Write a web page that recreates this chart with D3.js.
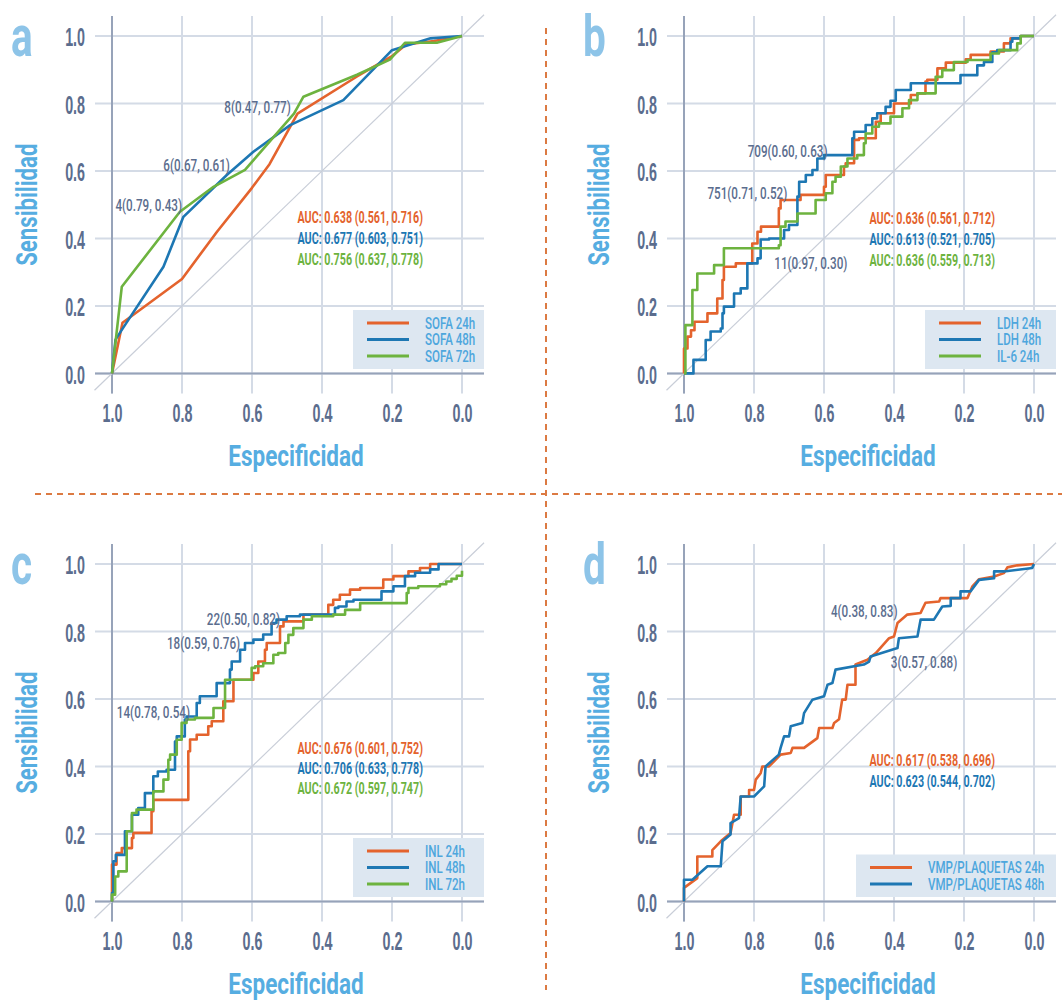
<!DOCTYPE html>
<meta charset="utf-8">
<script src="https://d3js.org/d3.v7.min.js"></script>
<style type="text/css">
body { margin: 0; background: #fff; }
svg { font-family: Roboto, "DejaVu Sans Condensed", sans-serif; }
.grid line { stroke: #d4dbe6; stroke-width: 2; }
.eixo { stroke: #97a3b9; stroke-width: 2; }
.diag { stroke: #c9ced8; stroke-width: 1.2; }
.axis text { fill: #5b6d8e; font-size: 26px; font-weight: bold; }
.titulo { fill: #56ade1; font-size: 30px; font-weight: bold; }
.letra { fill: #8dc4e8; font-size: 58px; font-weight: bold; }
.anot { fill: #5b6d8e; font-size: 16px; font-weight: 500; }
.auc { font-size: 16px; font-weight: bold; }
.leg text { fill: #4da6dd; font-size: 16px; font-weight: 500; }
</style>
<body>
<div id="canvas"></div>
<script>

// cores das series
var colors = ["#e4632d", "#1d77b3", "#6db33f"];
var tickValues = [0, 0.2, 0.4, 0.6, 0.8, 1.0];

// a: SOFA --------------------------------------------------------
var sofa24 = [[1,0],[0.97,0.15],[0.80,0.28],[0.70,0.42],[0.60,0.55],[0.55,0.62],[0.47,0.77],[0.30,0.88],[0.20,0.94],[0.16,0.975],[0.08,0.985],[0,1]];
var sofa48 = [[1,0],[0.99,0.10],[0.965,0.14],[0.853,0.316],[0.796,0.464],[0.672,0.588],[0.596,0.657],[0.491,0.736],[0.339,0.81],[0.20,0.958],[0.09,0.993],[0,1]];
var sofa72 = [[1,0],[0.972,0.257],[0.806,0.479],[0.71,0.553],[0.62,0.603],[0.48,0.77],[0.453,0.82],[0.30,0.885],[0.206,0.93],[0.163,0.98],[0.072,0.98],[0,1]];

// b: LDH / IL-6 --------------------------------------------------
var ldh24 = [[1,0],[0.99,0.074],[0.98,0.109],[0.97,0.128],[0.933,0.153],[0.905,0.178],[0.89,0.222],[0.886,0.277],[0.852,0.316],[0.805,0.326],[0.79,0.385],[0.78,0.42],[0.729,0.435],[0.724,0.489],[0.695,0.514],[0.667,0.514],[0.657,0.529],[0.60,0.529],[0.595,0.553],[0.543,0.588],[0.538,0.613],[0.514,0.623],[0.50,0.692],[0.452,0.697],[0.438,0.746],[0.429,0.771],[0.40,0.771],[0.395,0.80],[0.352,0.80],[0.333,0.825],[0.31,0.83],[0.305,0.865],[0.276,0.87],[0.252,0.904],[0.224,0.921],[0.195,0.921],[0.181,0.931],[0.124,0.944],[0.086,0.954],[0.067,0.978],[0.038,0.993],[0,1]];
var ldh48 = [[1,0],[0.973,0],[0.938,0.04],[0.924,0.099],[0.895,0.124],[0.89,0.133],[0.886,0.178],[0.857,0.198],[0.838,0.237],[0.819,0.252],[0.79,0.326],[0.781,0.341],[0.757,0.397],[0.714,0.40],[0.70,0.425],[0.676,0.44],[0.671,0.524],[0.652,0.568],[0.633,0.588],[0.619,0.603],[0.60,0.637],[0.581,0.647],[0.519,0.647],[0.514,0.697],[0.481,0.716],[0.462,0.736],[0.448,0.756],[0.424,0.771],[0.41,0.79],[0.395,0.808],[0.352,0.84],[0.276,0.86],[0.21,0.86],[0.181,0.884],[0.162,0.884],[0.143,0.913],[0.119,0.923],[0.105,0.952],[0.067,0.958],[0.062,0.983],[0.038,0.993],[0,1]];
var il6_24 = [[1,0],[0.996,0],[0.976,0.143],[0.962,0.247],[0.914,0.296],[0.886,0.321],[0.871,0.371],[0.729,0.371],[0.724,0.38],[0.71,0.435],[0.676,0.45],[0.648,0.474],[0.624,0.474],[0.595,0.514],[0.576,0.534],[0.567,0.568],[0.552,0.583],[0.533,0.613],[0.505,0.637],[0.486,0.647],[0.481,0.682],[0.462,0.711],[0.443,0.731],[0.41,0.741],[0.376,0.761],[0.357,0.786],[0.333,0.81],[0.281,0.83],[0.262,0.879],[0.229,0.899],[0.19,0.923],[0.124,0.929],[0.10,0.948],[0.048,0.958],[0.038,0.978],[0,1]];

// c: INL ---------------------------------------------------------
var inl24 = [[1,0],[1,0.064],[0.987,0.109],[0.972,0.143],[0.943,0.158],[0.939,0.188],[0.887,0.203],[0.882,0.267],[0.82,0.301],[0.782,0.301],[0.777,0.445],[0.758,0.48],[0.725,0.494],[0.715,0.519],[0.701,0.534],[0.682,0.534],[0.677,0.593],[0.653,0.593],[0.596,0.657],[0.582,0.677],[0.563,0.711],[0.558,0.746],[0.52,0.766],[0.51,0.815],[0.453,0.83],[0.382,0.85],[0.368,0.879],[0.349,0.894],[0.32,0.909],[0.291,0.924],[0.225,0.929],[0.196,0.954],[0.153,0.964],[0.12,0.978],[0.091,0.988],[0.077,1],[0,1]];
var inl48 = [[1,0],[0.996,0.025],[0.989,0.119],[0.963,0.138],[0.943,0.208],[0.925,0.257],[0.906,0.277],[0.882,0.321],[0.869,0.371],[0.844,0.385],[0.82,0.39],[0.815,0.474],[0.792,0.489],[0.787,0.539],[0.758,0.548],[0.749,0.588],[0.72,0.608],[0.701,0.608],[0.663,0.647],[0.658,0.687],[0.634,0.711],[0.62,0.746],[0.596,0.766],[0.568,0.776],[0.544,0.791],[0.53,0.825],[0.501,0.835],[0.463,0.845],[0.363,0.85],[0.353,0.87],[0.33,0.874],[0.31,0.889],[0.23,0.894],[0.196,0.919],[0.163,0.934],[0.134,0.964],[0.091,0.974],[0.067,0.984],[0.058,1],[0,1]];
var inl72 = [[1,0],[0.991,0.02],[0.982,0.074],[0.958,0.089],[0.958,0.17],[0.943,0.208],[0.93,0.262],[0.882,0.272],[0.853,0.326],[0.839,0.361],[0.834,0.42],[0.815,0.435],[0.801,0.479],[0.787,0.529],[0.763,0.539],[0.71,0.544],[0.71,0.573],[0.677,0.573],[0.672,0.657],[0.601,0.657],[0.591,0.692],[0.568,0.697],[0.539,0.706],[0.525,0.731],[0.505,0.736],[0.496,0.766],[0.482,0.79],[0.453,0.81],[0.429,0.835],[0.368,0.845],[0.334,0.85],[0.329,0.864],[0.291,0.864],[0.244,0.884],[0.158,0.884],[0.153,0.914],[0.125,0.929],[0.063,0.934],[0.045,0.94],[0.03,0.948],[0.015,0.956],[0,0.965],[0,0.98]];

// d: VMP/PLAQUETAS -----------------------------------------------
var vmp24 = [[1,0],[1,0.04],[0.962,0.069],[0.962,0.133],[0.919,0.133],[0.919,0.152],[0.895,0.178],[0.867,0.203],[0.857,0.257],[0.838,0.257],[0.838,0.311],[0.814,0.311],[0.814,0.33],[0.80,0.33],[0.795,0.361],[0.781,0.38],[0.776,0.40],[0.757,0.40],[0.724,0.435],[0.695,0.44],[0.69,0.455],[0.657,0.455],[0.619,0.484],[0.614,0.514],[0.576,0.514],[0.571,0.529],[0.557,0.54],[0.548,0.598],[0.538,0.598],[0.533,0.642],[0.51,0.642],[0.51,0.702],[0.476,0.716],[0.452,0.736],[0.414,0.78],[0.40,0.785],[0.39,0.825],[0.362,0.85],[0.324,0.855],[0.31,0.885],[0.271,0.889],[0.267,0.899],[0.19,0.899],[0.176,0.934],[0.157,0.955],[0.114,0.963],[0.086,0.973],[0.076,0.99],[0.048,0.996],[0,1]];
var vmp48 = [[1,0],[1,0.064],[0.976,0.064],[0.933,0.104],[0.895,0.104],[0.89,0.178],[0.867,0.198],[0.867,0.232],[0.843,0.247],[0.838,0.311],[0.80,0.311],[0.771,0.341],[0.767,0.40],[0.729,0.435],[0.724,0.455],[0.714,0.489],[0.70,0.489],[0.695,0.519],[0.662,0.529],[0.657,0.558],[0.633,0.598],[0.60,0.608],[0.59,0.642],[0.576,0.647],[0.567,0.687],[0.486,0.702],[0.471,0.711],[0.467,0.726],[0.39,0.751],[0.386,0.78],[0.333,0.785],[0.324,0.835],[0.286,0.835],[0.262,0.874],[0.238,0.876],[0.238,0.899],[0.21,0.899],[0.21,0.919],[0.181,0.919],[0.157,0.953],[0.114,0.958],[0.114,0.978],[0.086,0.978],[0.005,0.988],[0,1]];

// textos AUC e pontos de corte
var aucA = ["AUC: 0.638 (0.561, 0.716)", "AUC: 0.677 (0.603, 0.751)", "AUC: 0.756 (0.637, 0.778)"];
var aucB = ["AUC: 0.636 (0.561, 0.712)", "AUC: 0.613 (0.521, 0.705)", "AUC: 0.636 (0.559, 0.713)"];
var aucC = ["AUC: 0.676 (0.601, 0.752)", "AUC: 0.706 (0.633, 0.778)", "AUC: 0.672 (0.597, 0.747)"];
var aucD = ["AUC: 0.617 (0.538, 0.696)", "AUC: 0.623 (0.544, 0.702)"];

var cortesA = [["8(0.47, 0.77)", 0.489, 0.789], ["6(0.67, 0.61)", 0.663, 0.617], ["4(0.79, 0.43)", 0.80, 0.499]];
var cortesB = [["709(0.60, 0.63)", 0.59, 0.657], ["751(0.71, 0.52)", 0.705, 0.534], ["11(0.97, 0.30)", 0.533, 0.326]];
var cortesC = [["22(0.50, 0.82)", 0.52, 0.837], ["18(0.59, 0.76)", 0.634, 0.764], ["14(0.78, 0.54)", 0.777, 0.56]];
var cortesD = [["4(0.38, 0.83)", 0.39, 0.86], ["3(0.57, 0.88)", 0.219, 0.707]];

var panels = [
  {letra: "a", ox: 112, oy: 36, curva: d3.curveLinear, series: [sofa24, sofa48, sofa72],
   nomes: ["SOFA 24h", "SOFA 48h", "SOFA 72h"], auc: aucA, aucY: [0.463, 0.40, 0.338], cortes: cortesA, legW: 131},
  {letra: "b", ox: 684, oy: 36, curva: d3.curveStepBefore, series: [ldh24, ldh48, il6_24],
   nomes: ["LDH 24h", "LDH 48h", "IL-6 24h"], auc: aucB, aucY: [0.459, 0.397, 0.336], cortes: cortesB, legW: 131},
  {letra: "c", ox: 112, oy: 564, curva: d3.curveStepBefore, series: [inl24, inl48, inl72],
   nomes: ["INL 24h", "INL 48h", "INL 72h"], auc: aucC, aucY: [0.455, 0.395, 0.336], cortes: cortesC, legW: 131},
  {letra: "d", ox: 684, oy: 564, curva: d3.curveLinear, series: [vmp24, vmp48],
   nomes: ["VMP/PLAQUETAS 24h", "VMP/PLAQUETAS 48h"], auc: aucD, aucY: [0.418, 0.356], cortes: cortesD, legW: 200}
];

var width = 1062, height = 1003;
var W = 350, H = 337.4;

var svg = d3.select("#canvas").append("svg")
  .attr("width", width).attr("height", height);

// separadores tracejados ------------------------------------------
svg.append("line").attr("x1", 546).attr("x2", 546).attr("y1", 28).attr("y2", 990)
  .attr("stroke", "#dc7a42").attr("stroke-width", 2).attr("stroke-dasharray", "6,5");
svg.append("line").attr("x1", 35).attr("x2", 1062).attr("y1", 494).attr("y2", 494)
  .attr("stroke", "#dc7a42").attr("stroke-width", 2).attr("stroke-dasharray", "6,5");

var x = d3.scaleLinear().domain([1, 0]).range([0, W]);
var y = d3.scaleLinear().domain([0, 1]).range([H, 0]);

// estreita o texto (fonte condensada)
function aperta(sel, k) {
  sel.each(function() {
    var t = d3.select(this);
    var tx = +t.attr("x") || 0;
    t.attr("x", tx / k).attr("transform", "scale(" + k + ",1)");
  });
}

function texto(g, s, px, py, k, anchor) {
  return g.append("text").text(s)
    .attr("transform", "translate(" + px + "," + py + ") scale(" + k + ",1)")
    .attr("text-anchor", anchor || "start");
}

panels.forEach(function(p) {
  var g = svg.append("g").attr("transform", "translate(" + p.ox + "," + p.oy + ")");

  // grade
  var grid = g.append("g").attr("class", "grid");
  grid.selectAll(".v").data(tickValues).enter().append("line")
    .attr("x1", function(d) { return x(d); }).attr("x2", function(d) { return x(d); })
    .attr("y1", -20).attr("y2", H + 20);
  grid.selectAll(".h").data(tickValues).enter().append("line")
    .attr("y1", function(d) { return y(d); }).attr("y2", function(d) { return y(d); })
    .attr("x1", -17).attr("x2", W + 22);

  g.append("line").attr("class", "eixo")
    .attr("x1", x(1)).attr("x2", x(1)).attr("y1", -20).attr("y2", H + 20);
  g.append("line").attr("class", "eixo")
    .attr("x1", -17).attr("x2", W + 22).attr("y1", y(0)).attr("y2", y(0));

  g.append("line").attr("class", "diag")
    .attr("x1", x(1.05)).attr("y1", y(-0.05))
    .attr("x2", x(-0.063)).attr("y2", y(1.063));

  // eixos
  var ay = g.append("g").attr("class", "axis")
    .call(d3.axisLeft(y).tickValues(tickValues).tickSize(0).tickPadding(27).tickFormat(d3.format(".1f")));
  ay.select(".domain").remove();
  ay.selectAll("text").attr("dy", "0.38em");
  aperta(ay.selectAll("text"), 0.55);

  var ax = g.append("g").attr("class", "axis").attr("transform", "translate(0," + H + ")")
    .call(d3.axisBottom(x).tickValues(tickValues).tickSize(0).tickFormat(d3.format(".1f")));
  ax.select(".domain").remove();
  ax.selectAll("text").attr("y", 39).attr("dy", "0.36em");
  aperta(ax.selectAll("text"), 0.55);

  // titulos
  texto(g, "Especificidad", 184, 430, 0.75, "middle").attr("class", "titulo");
  g.append("text").attr("class", "titulo").text("Sensibilidad")
    .attr("text-anchor", "middle")
    .attr("transform", "translate(-75," + (H / 2) + ") rotate(-90) scale(0.74,1)");
  texto(g, p.letra, -101, 20, 0.7).attr("class", "letra");

  // curvas ROC
  var line = d3.line()
    .x(function(d) { return x(d[0]); })
    .y(function(d) { return y(d[1]); })
    .curve(p.curva);

  p.series.forEach(function(s, i) {
    g.append("path")
      .attr("d", line(s))
      .style("fill", "none")
      .style("stroke", colors[i])
      .style("stroke-width", 2.6)
      .style("stroke-linejoin", "round");
  });

  // pontos de corte
  p.cortes.forEach(function(c) {
    texto(g, c[0], x(c[1]), y(c[2]), 0.73, "end").attr("class", "anot").attr("dy", "0.35em");
  });

  // AUC
  p.auc.forEach(function(a, i) {
    texto(g, a, x(0.47), y(p.aucY[i]), 0.67).attr("class", "auc")
      .attr("dy", "0.35em").style("fill", colors[i]);
  });

  // legenda
  var n = p.nomes.length;
  var leg = g.append("g").attr("class", "leg");
  var left = W + 22 - p.legW;
  var rowY = function(i) { return 333 - 13 - (n - 1 - i) * 16.5; };
  leg.append("rect").attr("x", left).attr("y", rowY(0) - 13)
    .attr("width", p.legW).attr("height", 333 - (rowY(0) - 13))
    .attr("fill", "#dde7f1");
  p.nomes.forEach(function(nm, i) {
    leg.append("line").attr("x1", left + 14).attr("x2", left + 56)
      .attr("y1", rowY(i)).attr("y2", rowY(i))
      .attr("stroke", colors[i]).attr("stroke-width", 3);
    texto(leg, nm, left + 72, rowY(i), 0.72).attr("dy", "0.36em");
  });
});
</script>
</body>
